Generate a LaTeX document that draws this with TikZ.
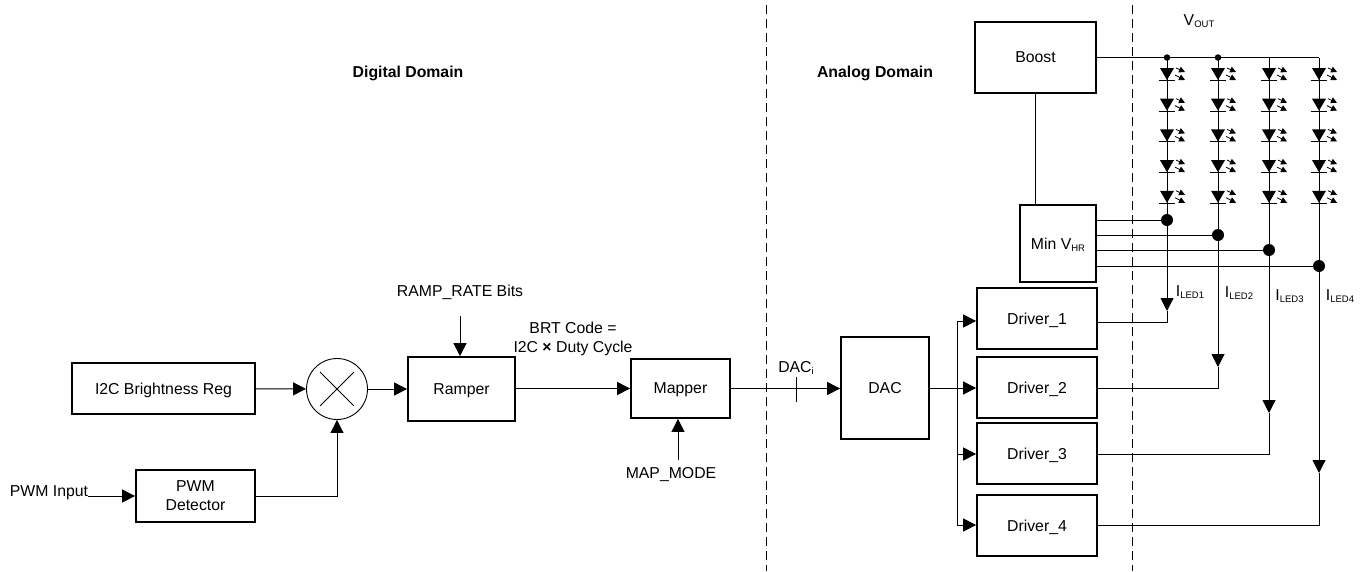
\documentclass[tikz,border=0pt]{standalone}
\usepackage{fontspec}
\setmainfont{Liberation Sans}
\usetikzlibrary{arrows.meta}
\usetikzlibrary{calc}
\tikzset{
  blockbox/.style={draw,line width=1.8pt,inner sep=0pt,align=center,text depth=0pt},
  wire/.style={line width=1pt},
  sigarrow/.style={wire,-{Triangle[length=13pt,width=13pt]}},
  domainline/.style={line width=0.9pt,dash pattern=on 9pt off 5pt},
  junction/.style={circle,fill=black,draw=none,inner sep=0pt,minimum size=#1},
  lbl/.style={inner sep=0pt},
  ledpic/.pic={
    \fill (-7,-6) -- (7,-6) -- (0,6) -- cycle;
    \draw [line width=1pt] (-8,6.5) -- (8,6.5);
    \draw [line width=0.8pt,-{Triangle[length=6pt,width=6pt]}] (9,-6) -- (18,-2);
    \draw [line width=0.8pt,-{Triangle[length=6pt,width=6pt]}] (8,1) -- (18,6);
  }
}
\newcommand{\vsub}[2]{#1\raisebox{-2.5pt}{\fontsize{9.5}{10}\selectfont #2}}
\begin{document}
\begin{tikzpicture}[x=1pt,y=-1pt,every node/.style={font=\fontsize{15.8}{19}\selectfont}]
  \useasboundingbox (0,0) rectangle (1364,571);

  \draw [domainline] (766,5) -- (766,571);
  \draw [domainline] (1132,5) -- (1132,571);

  \node [lbl] (digital) at (408,73) {\textbf{Digital Domain}};
  \node [lbl] (analog) at (875,73) {\textbf{Analog Domain}};
  \node [lbl] (vout) at (1199,21) {\vsub{V}{OUT}};

  \node [blockbox,minimum width=183pt,minimum height=51pt] (i2c) at (163.5,388.5) {I2C Brightness Reg};
  \node [blockbox,minimum width=119pt,minimum height=52pt] (pwm) at (195.5,496) {PWM\\Detector};
  \node [draw,circle,line width=0.9pt,minimum size=61pt,inner sep=0pt] (mult) at (337,389) {};
  \node [blockbox,minimum width=107pt,minimum height=64pt] (ramper) at (461.5,389) {Ramper};
  \node [blockbox,minimum width=99pt,minimum height=59pt] (mapper) at (680.5,388.5) {Mapper};
  \node [blockbox,minimum width=88pt,minimum height=102pt] (dac) at (885,388) {DAC};
  \node [blockbox,minimum width=121pt,minimum height=71pt] (boost) at (1035.5,57.5) {Boost};
  \node [blockbox,minimum width=76pt,minimum height=77pt] (minvhr) at (1058,243.5) {Min \vsub{V}{HR}};
  \node [blockbox,minimum width=120pt,minimum height=61pt] (drv1) at (1037,318.5) {Driver\_1};
  \node [blockbox,minimum width=120pt,minimum height=61pt] (drv2) at (1037,387.5) {Driver\_2};
  \node [blockbox,minimum width=120pt,minimum height=61pt] (drv3) at (1037,453.5) {Driver\_3};
  \node [blockbox,minimum width=120pt,minimum height=61pt] (drv4) at (1037,525.5) {Driver\_4};

  \draw [line width=0.9pt] (mult.45) ++(-5,5) -- ($(mult.225)+(5,-5)$);
  \draw [line width=0.9pt] (mult.135) ++(5,5) -- ($(mult.315)+(-5,-5)$);

  \node [lbl] (pwmin) at (49,493) {PWM Input};
  \node [lbl] (ramprate) at (460,292) {RAMP\_RATE Bits};
  \node [lbl,align=center] (brt) at (573,339) {BRT Code =\\I2C \textbf{×} Duty Cycle};
  \node [lbl] (mapmode) at (671,475) {MAP\_MODE};
  \node [lbl] (daci) at (796,368) {DAC\raisebox{-2.5pt}{\fontsize{9.5}{10}\selectfont i}};

  % left half of the signal path
  \draw [sigarrow] (i2c) -- (mult);
  \draw [sigarrow] (mult) -- (ramper.west |- mult);
  \draw [sigarrow] (ramper.east |- mapper) -- (mapper);
  \draw [sigarrow] (pwmin.east |- pwm) -- (pwm);
  \draw [sigarrow] (pwm.east) -| (mult);
  \coordinate (ramptop) at (460,316);
  \coordinate (mapbot) at (678,460);
  \draw [sigarrow] (ramptop) -- (ramptop |- ramper.north);
  \draw [sigarrow] (mapbot) -- (mapbot |- mapper.south);
  \draw [sigarrow] (mapper) -- (dac.west |- mapper);
  \draw [wire] (796,377) -- (796,402);

  % bus to the drivers
  \coordinate (bus) at (957,388);
  \draw [wire] (dac.east |- bus) -- (bus);
  \draw [wire] (bus |- 0,321) -- (bus |- 0,525);
  \foreach \drv/\wy in {drv1/321,drv2/388,drv3/454,drv4/525}
    \draw [sigarrow] (bus |- 0,\wy) -- (\drv.west |- 0,\wy);

  \draw [wire] (boost) -- (boost |- minvhr.north);
  \coordinate (railend) at (1319,57.5);
  \draw [wire] (boost.east |- railend) -- (railend);

  \foreach \col/\xpos/\ypos/\tip/\low/\drv/\lx/\ly/\num in {
    a/1167/220/311/322/drv1/1190/292/1,
    b/1218/235/367/388/drv2/1239/293/2,
    c/1269/250/413/454/drv3/1289.5/296/3,
    d/1319/266/473/525/drv4/1340/296/4} {
    \coordinate (top\col) at (\xpos,57.5);
    \node [junction=12pt] (dot\col) at (\xpos,\ypos) {};
    \foreach \led in {0,...,4}
      \pic at (\xpos,74+30.7*\led) {ledpic};
    \draw [wire] (top\col) -- (dot\col);
    \draw [wire] (minvhr.east |- dot\col) -- (dot\col);
    \draw [sigarrow] (dot\col) -- (\xpos,\tip);
    \draw [wire] (\xpos,\tip) -- (\xpos,\low) -- (\drv.east |- 0,\low);
    \node [lbl] (iled\num) at (\lx,\ly) {\vsub{I}{LED\num}};
  }
  \node [junction=6.5pt] (railA) at (topa) {};
  \node [junction=6.5pt] (railB) at (topb) {};
\end{tikzpicture}
\end{document}
